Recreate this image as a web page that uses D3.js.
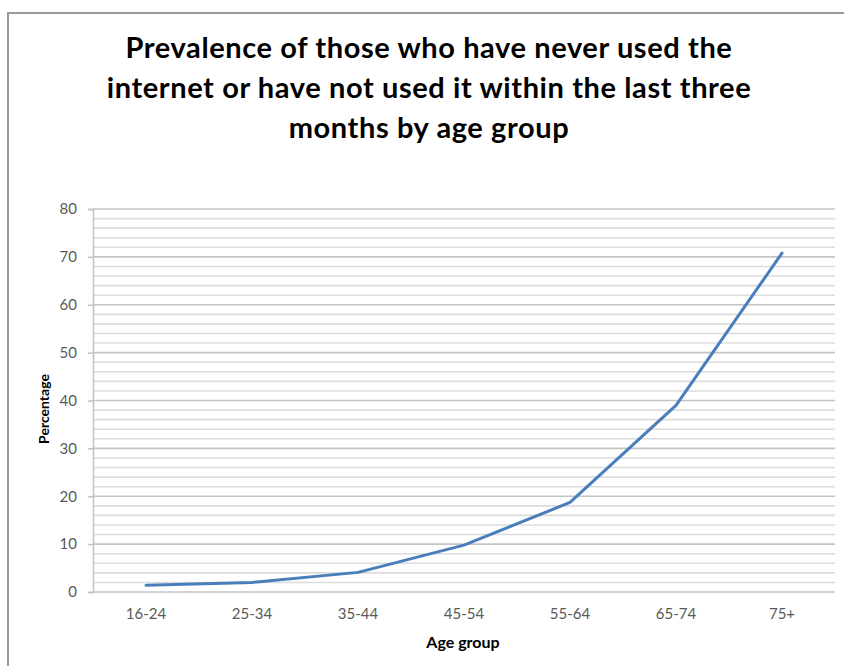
<!DOCTYPE html>
<html>
<head>
<meta charset="utf-8">
<script src="https://cdn.jsdelivr.net/npm/d3@7"></script>
<style>
  html, body { margin: 0; padding: 0; background: #fff; }
  svg { display: block; }
</style>
</head>
<body>
<svg id="chart" width="844" height="666"></svg>
<script>
// Age groups and share of people (%) who never used the internet or not in the last three months
const ageGroups = ["16-24", "25-34", "35-44", "45-54", "55-64", "65-74", "75+"];
const percentages = [1.4, 2.0, 4.1, 9.8, 18.7, 39.0, 70.8];
const majorTicks = [0, 10, 20, 30, 40, 50, 60, 70, 80];
const minorTicks = d3.range(0, 81, 2);
const titleLines = [
  "Prevalence of those who have never used the",
  "internet or have not used it within the last three",
  "months by age group"
];

const svg = d3.select("#chart");
const font = "Lato, 'Open Sans', sans-serif";

// Chart frame
svg.append("rect")
  .attr("x", 8).attr("y", 13)
  .attr("width", 860).attr("height", 680)
  .attr("fill", "#fff")
  .attr("stroke", "#9a9a9a")
  .attr("stroke-width", 2);

const plot = { left: 93, right: 835, top: 209, bottom: 592 };

const x = d3.scaleBand().domain(ageGroups).range([plot.left, plot.right]);
const y = d3.scaleLinear().domain([0, 80]).range([plot.bottom, plot.top]);

// Minor gridlines
svg.append("g").selectAll("line")
  .data(minorTicks.filter(v => v % 10 !== 0))
  .join("line")
  .attr("x1", plot.left).attr("x2", plot.right)
  .attr("y1", d => y(d)).attr("y2", d => y(d))
  .attr("stroke", "#dcdcdc").attr("stroke-width", 1.6);

// Major gridlines
svg.append("g").selectAll("line")
  .data(majorTicks)
  .join("line")
  .attr("x1", plot.left).attr("x2", plot.right)
  .attr("y1", d => y(d)).attr("y2", d => y(d))
  .attr("stroke", "#c4c4c4").attr("stroke-width", 1.6);

// Y axis
const yAxis = svg.append("g")
  .attr("transform", `translate(${plot.left},0)`)
  .call(d3.axisLeft(y).tickValues(majorTicks).tickSize(5).tickPadding(11));
yAxis.select(".domain").attr("stroke", "#c4c4c4").attr("stroke-width", 1.6);
yAxis.selectAll(".tick line").attr("stroke", "#c4c4c4").attr("stroke-width", 1.6);
yAxis.selectAll(".tick text")
  .attr("fill", "#595959").style("font-family", font).style("font-size", "15px");

// X axis
const xAxis = svg.append("g")
  .attr("transform", `translate(0,${plot.bottom})`)
  .call(d3.axisBottom(x).tickSize(0).tickPadding(16));
xAxis.select(".domain").remove();
xAxis.selectAll(".tick text")
  .attr("fill", "#595959").style("font-family", font).style("font-size", "15px");

// Data line
const line = d3.line()
  .x((d, i) => x(ageGroups[i]) + x.bandwidth() / 2)
  .y(d => y(d));
svg.append("path")
  .datum(percentages)
  .attr("d", line)
  .attr("fill", "none")
  .attr("stroke", "#4a7ebb")
  .attr("stroke-width", 3)
  .attr("stroke-linejoin", "round")
  .attr("stroke-linecap", "round");

// Title
svg.append("g").selectAll("text")
  .data(titleLines)
  .join("text")
  .attr("x", 429)
  .attr("y", (d, i) => 58 + i * 40)
  .attr("text-anchor", "middle")
  .style("font-family", font)
  .style("font-weight", "bold")
  .style("font-size", "29px")
  .style("letter-spacing", "0.6px")
  .attr("fill", "#000")
  .text(d => d);

// Axis titles
svg.append("text")
  .attr("x", 463)
  .attr("y", 648)
  .attr("text-anchor", "middle")
  .style("font-family", font).style("font-weight", "bold").style("font-size", "16px")
  .text("Age group");

svg.append("text")
  .attr("transform", `translate(49,409) rotate(-90)`)
  .attr("text-anchor", "middle")
  .style("font-family", font).style("font-weight", "bold").style("font-size", "14px")
  .text("Percentage");
</script>
</body>
</html>
